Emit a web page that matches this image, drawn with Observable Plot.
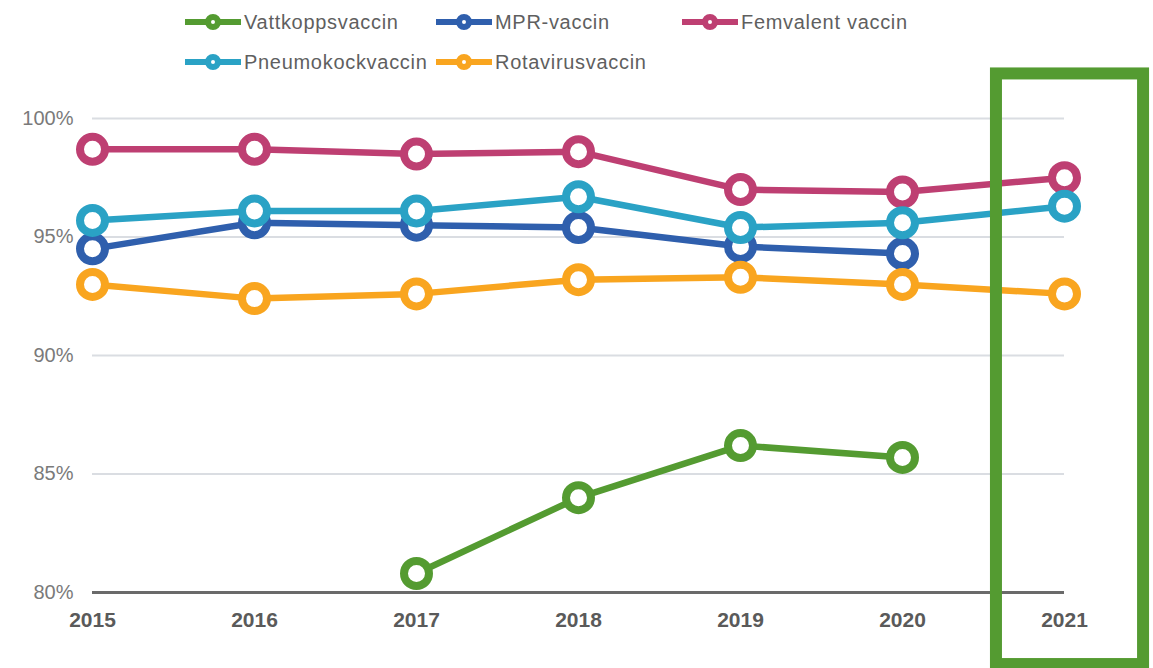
<!DOCTYPE html>
<html>
<head>
<meta charset="utf-8">
<script src="https://cdn.jsdelivr.net/npm/d3@7"></script>
<script src="https://cdn.jsdelivr.net/npm/@observablehq/plot@0.6"></script>
<style>
  html, body { margin: 0; padding: 0; background: #fff; }
  body { width: 1153px; height: 668px; overflow: hidden; font-family: "Liberation Sans", Arial, sans-serif; }
  #legend { position: relative; width: 1153px; height: 80px; }
  .item { position: absolute; display: flex; align-items: center; height: 30px; transform: translateY(-50%); }
  .item span { font-size: 20px; color: #5f5f5f; margin-left: 3px; white-space: nowrap; letter-spacing: 0.7px; }
  #chart svg { display: block; overflow: visible; }
</style>
</head>
<body>
<div id="legend"></div>
<div id="chart"></div>
<script>
// ---- data ----
const years = [2015, 2016, 2017, 2018, 2019, 2020, 2021];
const seriesNames = ["Vattkoppsvaccin", "MPR-vaccin", "Femvalent vaccin", "Pneumokockvaccin", "Rotavirusvaccin"];
const seriesColors = ["#549b31", "#2f5fad", "#be3f72", "#2aa2c5", "#f9a51f"];
const vattkopps  = [null, null, 80.8, 84.0, 86.2, 85.7, null];
const mpr        = [94.5, 95.6, 95.5, 95.4, 94.6, 94.3, null];
const femvalent  = [98.7, 98.7, 98.5, 98.6, 97.0, 96.9, 97.5];
const pneumokock = [95.7, 96.1, 96.1, 96.7, 95.4, 95.6, 96.3];
const rota       = [93.0, 92.4, 92.6, 93.2, 93.3, 93.0, 92.6];
const yTicks = [80, 85, 90, 95, 100];
const highlightYears = [2021];

const allValues = [vattkopps, mpr, femvalent, pneumokock, rota];
const series = seriesNames.map((name, i) => ({
  name, color: seriesColors[i],
  data: years.map((y, j) => ({year: y, value: allValues[i][j]})).filter(d => d.value != null)
}));

// ---- legend (HTML, above the SVG) ----
const legendLayout = [
  {left: 185, top: 22}, {left: 436, top: 22}, {left: 682, top: 22},
  {left: 185, top: 62}, {left: 436, top: 62}
];
const legend = document.getElementById("legend");
series.forEach((s, i) => {
  const pos = legendLayout[i];
  const div = document.createElement("div");
  div.className = "item";
  div.style.left = pos.left + "px";
  div.style.top = pos.top + "px";
  div.innerHTML = `<svg width="56" height="20" viewBox="0 0 56 20">
      <line x1="1" y1="10" x2="55" y2="10" stroke="${s.color}" stroke-width="6" stroke-linecap="round"/>
      <circle cx="28" cy="10" r="5" fill="#fff" stroke="${s.color}" stroke-width="6"/>
    </svg><span>${s.name}</span>`;
  legend.appendChild(div);
});

// ---- chart ----
const marks = [
  Plot.ruleY(yTicks.filter(t => t !== 80), {stroke: "#dadde2", strokeWidth: 2}),
  Plot.ruleY([80], {stroke: "#6a6a6a", strokeWidth: 3}),
  Plot.axisY({ticks: yTicks, tickFormat: d => d + "%", tickSize: 0, tickPadding: 19,
              fontSize: 20, fill: "#7a7a7a", label: null}),
  Plot.axisX({ticks: years, tickFormat: d => String(d), tickSize: 0, tickPadding: 20,
              fontSize: 21, fontWeight: "bold", fill: "#5a5a5a", label: null})
];
series.forEach(s => {
  marks.push(Plot.line(s.data, {x: "year", y: "value", stroke: s.color, strokeWidth: 6.5}));
  marks.push(Plot.dot(s.data, {x: "year", y: "value", r: 12.5, fill: "#fff", stroke: s.color, strokeWidth: 8}));
});
marks.push(Plot.rect(highlightYears, {
  x1: d => d - 0.42, x2: d => d + 0.488,
  y1: () => 76.96, y2: () => 101.88,
  fill: "none", stroke: "#549b31", strokeWidth: 12
}));

const chart = Plot.plot({
  width: 1153,
  height: 588,
  marginTop: 38,
  marginBottom: 76,
  marginLeft: 92,
  marginRight: 89,
  x: {domain: [2015, 2021]},
  y: {domain: [80, 100]},
  style: {fontFamily: "'Liberation Sans', Arial, sans-serif", overflow: "visible", background: "transparent"},
  marks
});
document.getElementById("chart").appendChild(chart);
</script>
</body>
</html>
